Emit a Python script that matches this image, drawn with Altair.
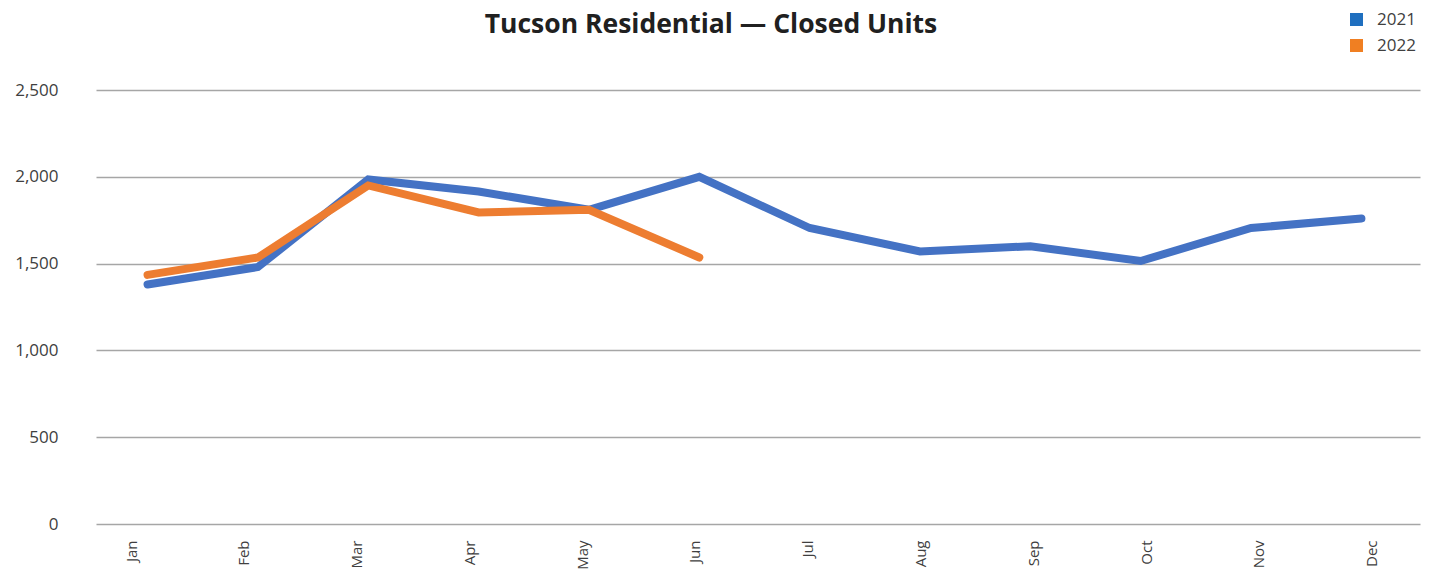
import altair as alt
import pandas as pd

months = ["Jan", "Feb", "Mar", "Apr", "May", "Jun", "Jul", "Aug", "Sep", "Oct", "Nov", "Dec"]
units_2021 = [1380, 1480, 1985, 1915, 1810, 2000, 1705, 1570, 1600, 1515, 1705, 1760]
units_2022 = [1435, 1535, 1950, 1795, 1810, 1535]
years = ["2021", "2022"]
line_colors = ["#4472C4", "#ED7D31"]
legend_colors = ["#1F6FBF", "#F07F22"]

rows = []
for m, v in zip(months, units_2021):
    rows.append({"month": m, "year": "2021", "units": v})
for m, v in zip(months, units_2022):
    rows.append({"month": m, "year": "2022", "units": v})
df = pd.DataFrame(rows)

FONT = "Open Sans"

# x scale for the lines (no axis drawn)
x_lines = alt.X("month:N", sort=months, title=None,
                scale=alt.Scale(type="point", padding=0.499, align=0.468, domain=months),
                axis=None)
# x scale carrying the month labels (labels spaced slightly wider, as in the reference)
x_labels = alt.X("month:N", sort=months, title=None,
                 scale=alt.Scale(type="point", padding=0.37, align=0.42, domain=months),
                 axis=alt.Axis(orient="bottom", labelAngle=270, labelAlign="right",
                               labelBaseline="middle", labelPadding=16, ticks=False,
                               domain=False, grid=False, labelFontSize=15,
                               labelColor="#404040", labelFont=FONT))
y = alt.Y("units:Q", title=None,
          scale=alt.Scale(domain=[0, 2500], nice=False),
          axis=alt.Axis(values=[0, 500, 1000, 1500, 2000, 2500],
                        labelExpr="format(datum.value, ',')",
                        ticks=False, domain=False, labelPadding=38,
                        labelFontSize=17, labelColor="#404040", labelFont=FONT,
                        gridColor="#A6A6A6", gridWidth=1.3))

lines = alt.Chart(df).mark_line(strokeWidth=8, strokeCap="round", strokeJoin="miter").encode(
    x=x_lines, y=y,
    color=alt.Color("year:N", scale=alt.Scale(domain=years, range=line_colors), legend=None),
)

label_layer = alt.Chart(df).mark_square(size=0, opacity=0).encode(
    x=x_labels, y=y,
    fill=alt.Fill("year:N", scale=alt.Scale(domain=years, range=legend_colors),
                  legend=alt.Legend(title=None, orient="none", legendX=1252, legendY=-79,
                                    symbolType="square", symbolSize=169, symbolOpacity=1,
                                    symbolStrokeWidth=0, labelFontSize=17, labelFont=FONT,
                                    labelColor="#404040", rowPadding=8, labelOffset=12)),
)

chart = alt.layer(lines, label_layer).resolve_scale(
    x="independent", color="independent", fill="independent"
).properties(
    width=1324, height=434,
    autosize=alt.AutoSizeParams(type="none"),
    padding={"left": 88, "top": 82, "right": 4, "bottom": 54},
    title=alt.TitleParams("Tucson Residential — Closed Units", font=FONT, fontSize=26.5,
                          fontWeight="bold", color="#202020", anchor="middle",
                          frame="group", dx=-47, offset=-27),
).configure_view(stroke=None)

chart.save("out.html", embed_options={"renderer": "svg", "actions": False})
